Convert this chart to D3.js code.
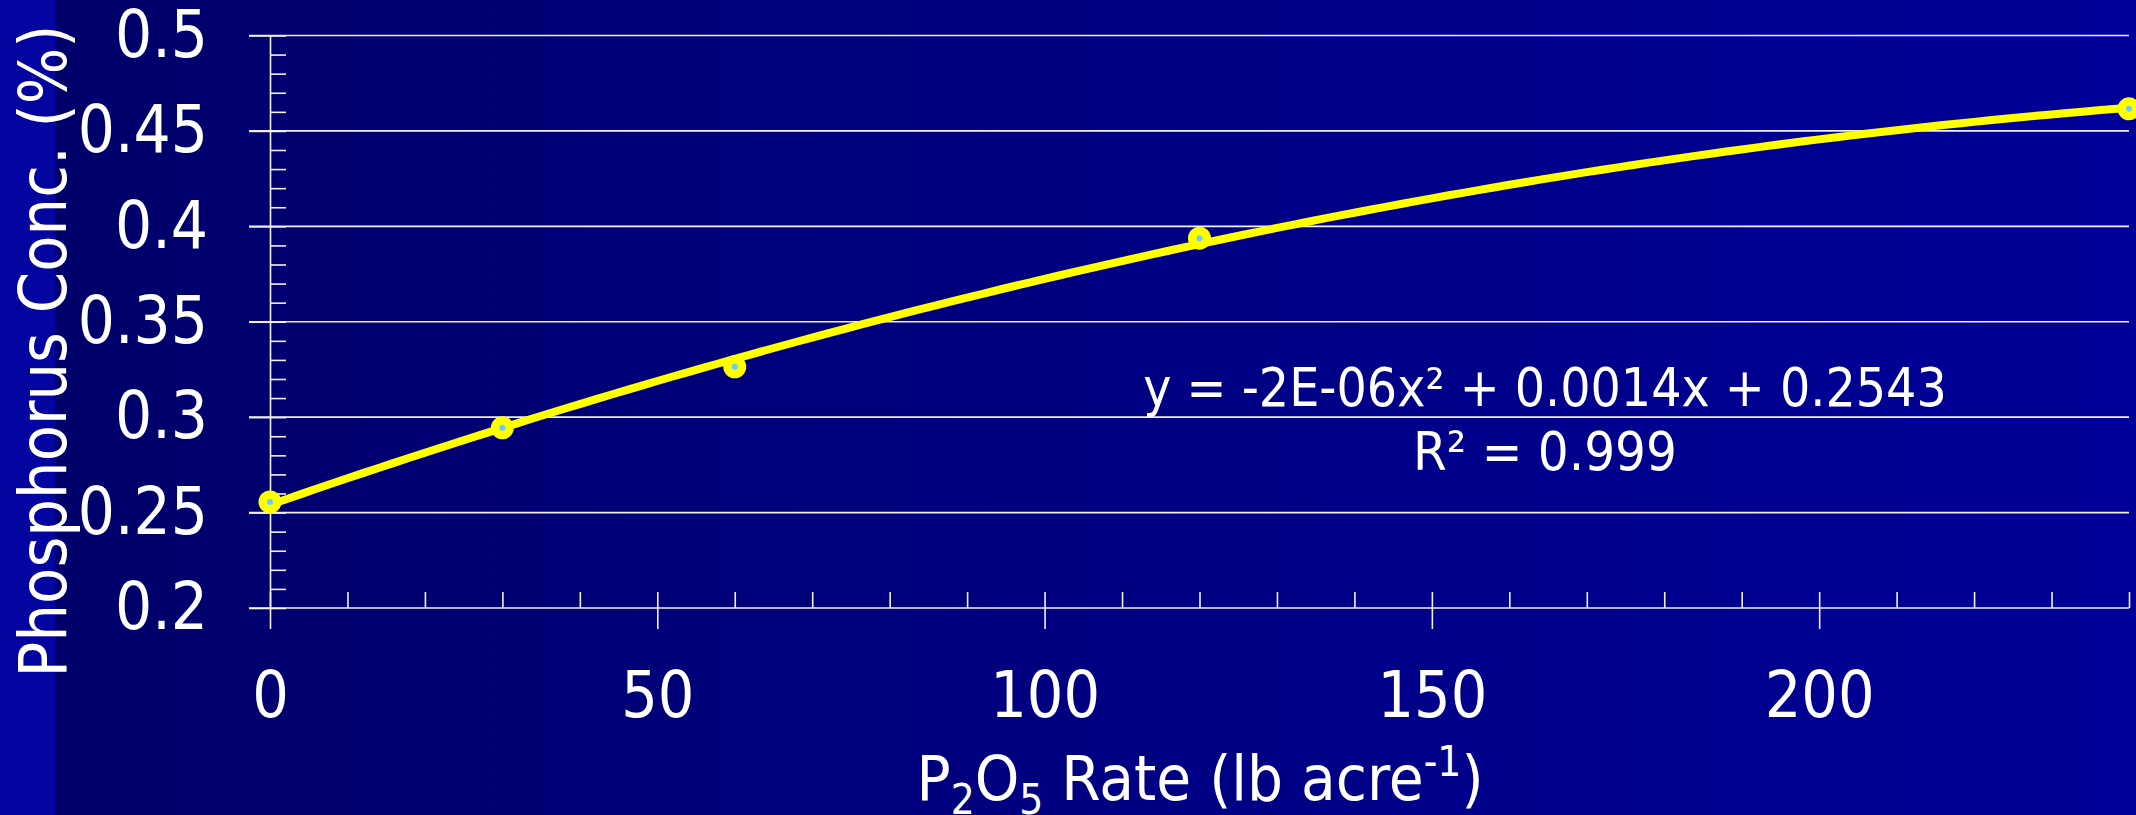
<!DOCTYPE html>
<html>
<head>
<meta charset="utf-8">
<script src="https://cdn.jsdelivr.net/npm/d3@7"></script>
<style>
  body { margin: 0; background: #000070; }
  svg { display: block; }
  text { fill: #fff; font-family: "DejaVu Sans Condensed", "DejaVu Sans", sans-serif; font-stretch: condensed; }
</style>
</head>
<body>
<div id="chart-area"></div>
<script>
// P2O5 rate vs phosphorus concentration
const rates = [0, 30, 60, 120, 240];
const conc = [0.2556, 0.2944, 0.3264, 0.3938, 0.4616];
const yTicks = [0.2, 0.25, 0.3, 0.35, 0.4, 0.45, 0.5];
const yTickLabels = ["0.2", "0.25", "0.3", "0.35", "0.4", "0.45", "0.5"];
const xTicks = [0, 50, 100, 150, 200];
const equationText = "y = -2E-06x² + 0.0014x + 0.2543";
const r2Text = "R² = 0.999";

const W = 2136, H = 815;
const margin = { left: 270, right: 7, top: 35.5, bottom: 207 };
const width = W - margin.left - margin.right,
      height = H - margin.top - margin.bottom;

const svg = d3.select("#chart-area")
  .append("svg")
    .attr("width", W)
    .attr("height", H);

// background: bright strip on the left, then a dark-to-lighter blue gradient
const grad = svg.append("defs").append("linearGradient")
    .attr("id", "bg").attr("x1", "0").attr("x2", "1").attr("y1", "0").attr("y2", "0");
grad.append("stop").attr("offset", "0").attr("stop-color", "#00006a");
grad.append("stop").attr("offset", "1").attr("stop-color", "#000099");

svg.append("rect").attr("width", W).attr("height", H).attr("fill", "url(#bg)");
svg.append("rect").attr("width", 55).attr("height", H).attr("fill", "#0404a0");

const g = svg.append("g")
    .attr("transform", "translate(" + margin.left + ", " + margin.top + ")");

const xScale = d3.scaleLinear().domain([0, 240]).range([0, width]);
const yScale = d3.scaleLinear().domain([0.2, 0.5]).range([height, 0]);

// gridlines (they also reach 21px left of the axis, like major ticks)
g.append("g")
  .selectAll("line")
  .data(yTicks)
  .enter().append("line")
    .attr("x1", -21)
    .attr("x2", width)
    .attr("y1", d => yScale(d))
    .attr("y2", d => yScale(d))
    .attr("stroke", "#f0f0f0")
    .attr("stroke-width", 1.6);

// minor ticks on y axis, pointing inwards
const yMinor = d3.range(0, 31).map(i => 0.2 + i * 0.01);
g.append("g")
    .call(d3.axisRight(yScale).tickValues(yMinor).tickSize(16).tickSizeOuter(0).tickFormat(""))
    .call(a => a.select(".domain").remove())
    .selectAll("line").attr("stroke", "#f0f0f0").attr("stroke-width", 1.6);

// y axis with labels
const yAxis = g.append("g")
    .call(d3.axisLeft(yScale)
      .tickValues(yTicks)
      .tickSize(21)
      .tickSizeOuter(0)
      .tickPadding(41)
      .tickFormat((d, i) => yTickLabels[i]));
yAxis.selectAll("text").attr("font-size", 65).style("fill", "#fff");
yAxis.selectAll("line, path").attr("stroke", "#f0f0f0").attr("stroke-width", 1.6);
yAxis.attr("font-family", null);

// minor ticks on x axis, pointing up
const xMinor = d3.range(0, 25).map(i => i * 10);
g.append("g")
    .attr("transform", "translate(0," + height + ")")
    .call(d3.axisTop(xScale).tickValues(xMinor).tickSize(16).tickSizeOuter(0).tickFormat(""))
    .call(a => a.select(".domain").remove())
    .selectAll("line").attr("stroke", "#f0f0f0").attr("stroke-width", 1.6);

// x axis majors with labels
const xAxis = g.append("g")
    .attr("transform", "translate(0," + height + ")")
    .call(d3.axisBottom(xScale).tickValues(xTicks).tickSize(21).tickSizeOuter(0).tickPadding(43));
xAxis.select(".domain").remove();
xAxis.selectAll("text").attr("font-size", 64).style("fill", "#fff");
xAxis.selectAll("line").attr("stroke", "#f0f0f0").attr("stroke-width", 1.6);
xAxis.attr("font-family", null);

// quadratic least-squares trendline through the points
function quadFit(xs, ys) {
  const S = k => d3.sum(xs, x => Math.pow(x, k));
  const T = k => d3.sum(xs, (x, i) => Math.pow(x, k) * ys[i]);
  const A = [[S(4), S(3), S(2)], [S(3), S(2), S(1)], [S(2), S(1), xs.length]];
  const b = [T(2), T(1), T(0)];
  // gaussian elimination
  for (let c = 0; c < 3; c++) {
    for (let r = c + 1; r < 3; r++) {
      const f = A[r][c] / A[c][c];
      for (let k = c; k < 3; k++) A[r][k] -= f * A[c][k];
      b[r] -= f * b[c];
    }
  }
  const coef = [0, 0, 0];
  for (let r = 2; r >= 0; r--) {
    let s = b[r];
    for (let k = r + 1; k < 3; k++) s -= A[r][k] * coef[k];
    coef[r] = s / A[r][r];
  }
  return coef;
}
const [qa, qb, qc] = quadFit(rates, conc);
const fitX = d3.range(0, 241, 2);

const line = d3.line()
  .x(d => xScale(d))
  .y(d => yScale(qa * d * d + qb * d + qc));

g.append("path")
    .datum(fitX)
    .attr("d", line)
    .attr("fill", "none")
    .attr("stroke", "#ffff00")
    .attr("stroke-width", 8)
    .attr("stroke-linejoin", "round");

const pts = g.selectAll(".pt")
  .data(rates.map((r, i) => ({ x: r, y: conc[i] })))
  .enter().append("g")
    .attr("transform", d => "translate(" + xScale(d.x) + "," + yScale(d.y) + ")");
pts.append("circle").attr("r", 11.5).attr("fill", "#ffff00");
pts.append("circle").attr("r", 3).attr("fill", "#66ccff");

// equation
svg.append("text")
    .attr("x", 1545).attr("y", 406)
    .attr("text-anchor", "middle")
    .attr("font-size", 53)
    .text(equationText);
svg.append("text")
    .attr("x", 1545).attr("y", 470)
    .attr("text-anchor", "middle")
    .attr("font-size", 54)
    .text(r2Text);

// axis titles
svg.append("text")
    .attr("transform", "translate(66,351) rotate(-90)")
    .attr("text-anchor", "middle")
    .attr("font-size", 66)
    .text("Phosphorus Conc. (%)");

const xt = svg.append("text")
    .attr("x", 1200).attr("y", 800)
    .attr("text-anchor", "middle")
    .attr("font-size", 63);
xt.append("tspan").text("P");
xt.append("tspan").attr("font-size", 42).attr("dy", 14).text("2");
xt.append("tspan").attr("dy", -14).text("O");
xt.append("tspan").attr("font-size", 42).attr("dy", 14).text("5");
xt.append("tspan").attr("dy", -14).text(" Rate (lb acre");
xt.append("tspan").attr("font-size", 42).attr("dy", -24).text("-1");
xt.append("tspan").attr("dy", 24).text(")");
</script>
</body>
</html>
